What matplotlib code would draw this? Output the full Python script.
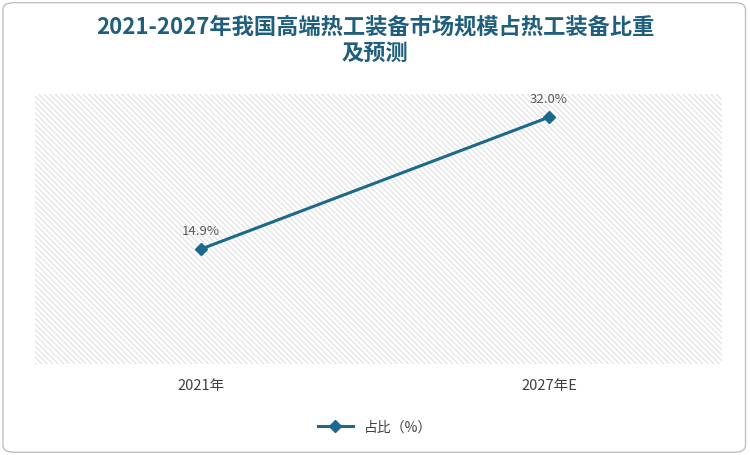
import matplotlib
matplotlib.use("Agg")
import matplotlib.pyplot as plt
from matplotlib import font_manager as fm
from matplotlib.patches import FancyBboxPatch, Rectangle

categories = ["2021年", "2027年E"]
values = [14.9, 32.0]
labels = ["14.9%", "32.0%"]
series_name = "占比（%）"

fam = "DejaVu Sans"
for f in fm.findSystemFonts():
    if "CJK" in f and ("SC" in f or "ttc" in f.lower()):
        try:
            fm.fontManager.addfont(f)
        except Exception:
            pass
names = {f.name for f in fm.fontManager.ttflist}
for n in ["Noto Sans CJK SC", "Noto Sans CJK JP", "Noto Sans CJK TC", "Noto Sans CJK KR"]:
    if n in names:
        fam = n
        break
plt.rcParams["font.family"] = [fam, "DejaVu Sans"]
plt.rcParams["hatch.color"] = "#dcdcdc"
plt.rcParams["hatch.linewidth"] = 0.7
fig = plt.figure(figsize=(7.5, 4.56), dpi=100)
fig.patches.append(FancyBboxPatch((0.004, 0.006), 0.99, 0.986, boxstyle="round,pad=0,rounding_size=0.015",
                                  transform=fig.transFigure, fill=False, edgecolor="#c0c0c0", lw=1))
ax = fig.add_axes([35/750, 1-365/456, 687/750, 270/456])
ax.set_xlim(-0.477, 1.497)
ax.set_ylim(0, 35)
ax.add_patch(Rectangle((0, 0), 1, 1, transform=ax.transAxes, facecolor="white",
                       hatch="\\\\\\\\\\\\", edgecolor="#dcdcdc", lw=0, zorder=0))
c = "#1B6A8C"
ax.plot(range(len(categories)), values, color=c, lw=2.2, marker="D", ms=6, label=series_name, zorder=3)
for i, (v, l) in enumerate(zip(values, labels)):
    ax.annotate(l, (i, v), xytext=(0, 9), textcoords="offset points", ha="center", va="bottom",
                fontsize=9.5, color="#595959")
ax.set_xticks(range(len(categories)))
ax.set_xticklabels(categories, fontsize=10.5, color="#404040")
ax.set_yticks([])
ax.tick_params(axis="x", length=0, pad=10)
for s in ax.spines.values():
    s.set_visible(False)
fig.text(0.5, 0.965, "2021-2027年我国高端热工装备市场规模占热工装备比重\n及预测", ha="center", va="top",
         fontsize=16, fontweight="bold", color="#1F5E7C", linespacing=1.15)
fig.legend(loc="lower center", bbox_to_anchor=(0.5, 0.02), frameon=False, fontsize=10,
           handlelength=2.5, labelcolor="#404040")
fig.savefig("out.png", dpi=100)
